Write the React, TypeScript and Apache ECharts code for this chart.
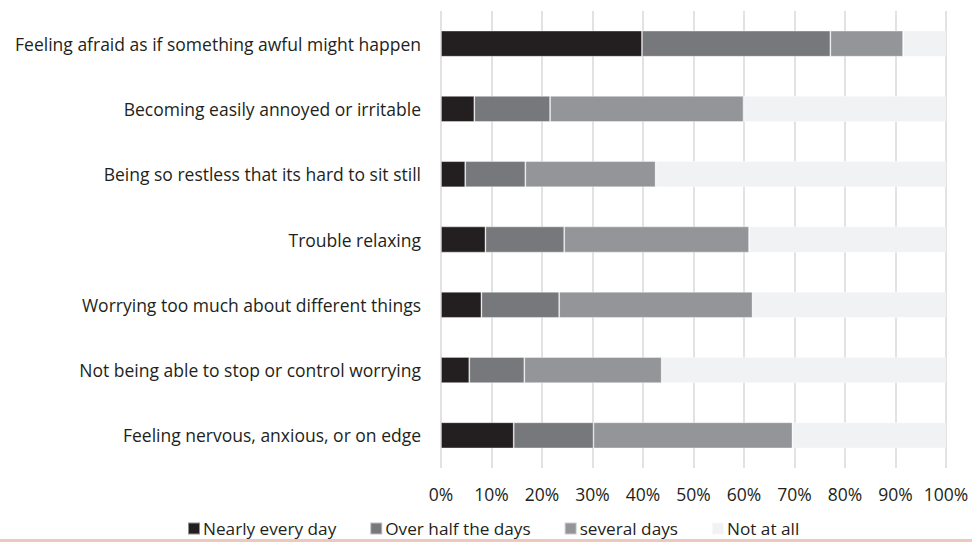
import React, { useEffect, useRef } from "react";
import * as echarts from "echarts";

// GAD-7 items, listed top to bottom
const items: string[] = [
  "Feeling afraid as if something awful might happen",
  "Becoming easily annoyed or irritable",
  "Being so restless that its hard to sit still",
  "Trouble relaxing",
  "Worrying too much about different things",
  "Not being able to stop or control worrying",
  "Feeling nervous, anxious, or on edge",
];

// Share of respondents (%) for each answer, same order as items
const nearlyEveryDay: number[] = [39.8, 6.6, 4.8, 8.8, 8.0, 5.6, 14.4];
const overHalfTheDays: number[] = [37.3, 15.0, 11.9, 15.6, 15.4, 10.9, 15.8];
const severalDays: number[] = [14.4, 38.3, 25.8, 36.6, 38.3, 27.2, 39.4];
const notAtAll: number[] = [8.5, 40.1, 57.5, 39.0, 38.3, 56.3, 30.4];

const seriesNames: string[] = ["Nearly every day", "Over half the days", "several days", "Not at all"];
const seriesColors: string[] = ["#231f20", "#77787b", "#939598", "#f1f2f4"];
const xTicks: number[] = [0, 10, 20, 30, 40, 50, 60, 70, 80, 90, 100];

const FONT = "'Open Sans', sans-serif";
const TEXT = "#231f20";

export default function App() {
  const ref = useRef<HTMLDivElement>(null);

  useEffect(() => {
    if (!ref.current) return;
    const chart = echarts.init(ref.current, undefined, { renderer: "svg" });
    const values = [nearlyEveryDay, overHalfTheDays, severalDays, notAtAll];

    chart.setOption({
      animation: false,
      backgroundColor: "#ffffff",
      textStyle: { fontFamily: FONT },
      grid: { left: 441, right: 26, top: 11, bottom: 74, containLabel: false },
      xAxis: {
        type: "value",
        min: xTicks[0],
        max: xTicks[xTicks.length - 1],
        interval: 10,
        axisLine: { show: false },
        axisTick: { show: false },
        splitLine: { show: true, lineStyle: { color: "#d9d9d9", width: 1.5 } },
        axisLabel: {
          formatter: (v: number) => `${v}%`,
          color: TEXT,
          fontSize: 17.5,
          fontFamily: FONT,
          margin: 17,
        },
      },
      yAxis: {
        type: "category",
        data: items,
        inverse: true,
        axisLine: { show: false },
        axisTick: { show: false },
        splitLine: { show: false },
        axisLabel: {
          color: TEXT,
          fontSize: 17.5,
          fontFamily: FONT,
          margin: 20,
        },
      },
      legend: {
        data: seriesNames,
        top: 515,
        left: 182,
        itemWidth: 12,
        itemHeight: 12,
        itemGap: 33,
        icon: "rect",
        textStyle: { color: TEXT, fontSize: 17.2, fontFamily: FONT, padding: [0, 0, 0, -2] },
      },
      series: seriesNames.map((name, i) => ({
        name,
        type: "bar",
        stack: "total",
        barCategoryGap: "60%",
        data: values[i],
        itemStyle: {
          color: seriesColors[i],
          borderColor: "rgba(255,255,255,0.5)",
          borderWidth: 0.8,
        },
      })),
      graphic: [
        {
          type: "rect",
          left: 0,
          top: 539,
          shape: { width: 972, height: 3 },
          style: { fill: "#ebcabd" },
          silent: true,
        },
      ],
    });

    return () => chart.dispose();
  }, []);

  return (
    <div
      ref={ref}
      style={{ position: "fixed", left: 0, top: 0, width: 972, height: 542 }}
    />
  );
}
